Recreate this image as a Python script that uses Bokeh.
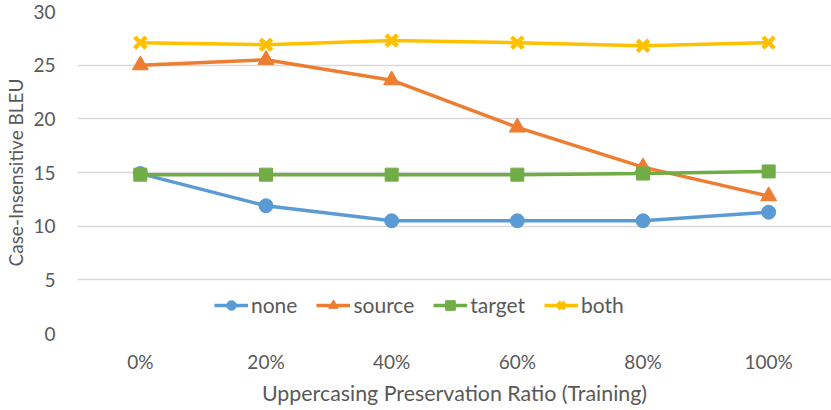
from bokeh.plotting import figure
from bokeh.models import Range1d, Legend, LegendItem, FixedTicker
from bokeh.embed import file_html
from bokeh.resources import INLINE

categories = ["0%", "20%", "40%", "60%", "80%", "100%"]
none_vals = [14.9, 11.9, 10.5, 10.5, 10.5, 11.3]
source_vals = [25.0, 25.5, 23.6, 19.2, 15.5, 12.8]
target_vals = [14.8, 14.8, 14.8, 14.8, 14.9, 15.1]
both_vals = [27.1, 26.9, 27.3, 27.1, 26.8, 27.1]
y_ticks = [0, 5, 10, 15, 20, 25, 30]
x_title = "Uppercasing Preservation Ratio (Training)"
y_title = "Case-Insensitive BLEU"

FONT = "Lato"
TXT = "#595959"

p = figure(x_range=categories, y_range=Range1d(0, 30),
           width=831, height=410, output_backend="svg", toolbar_location=None,
           min_border_left=77, min_border_right=0, min_border_top=11, min_border_bottom=77)
p.outline_line_color = None
p.background_fill_color = "white"
p.border_fill_color = "white"

p.xgrid.grid_line_color = None
p.ygrid.grid_line_color = "#D9D9D9"
p.ygrid.grid_line_width = 1.3
p.yaxis.ticker = FixedTicker(ticks=y_ticks)

for ax in (p.xaxis[0], p.yaxis[0]):
    ax.axis_line_color = None
    ax.major_tick_line_color = None
    ax.minor_tick_line_color = None
    ax.major_tick_out = 0
    ax.major_tick_in = 0
    ax.major_label_text_font = FONT
    ax.major_label_text_font_size = "19px"
    ax.major_label_text_color = TXT
    ax.axis_label_text_font = FONT
    ax.axis_label_text_color = TXT
    ax.axis_label_text_font_style = "normal"

p.xaxis.axis_label = x_title
p.yaxis.axis_label = y_title
p.xaxis.axis_label_text_font_size = "21.4px"
p.yaxis.axis_label_text_font_size = "19px"
p.xaxis.major_label_standoff = 16
p.xaxis.axis_label_standoff = 4
p.yaxis.major_label_standoff = 22
p.yaxis.axis_label_standoff = 3

series = [
    ("none", none_vals, "#5B9BD5", "circle", 14),
    ("source", source_vals, "#ED7D31", "triangle", 16),
    ("target", target_vals, "#70AD47", "square", 13),
    ("both", both_vals, "#FFC000", "x", 16),
]

items = []
for name, vals, color, marker, size in series:
    l = p.line(categories, vals, line_color=color, line_width=3.5)
    if marker == "x":
        s = p.scatter(categories, vals, marker="x", size=size, line_color=color, line_width=4.5)
    else:
        s = p.scatter(categories, vals, marker=marker, size=size, fill_color=color, line_color=color)
    items.append(LegendItem(label=name, renderers=[l, s]))

legend = Legend(items=items, orientation="horizontal", location=(137, 16),
                border_line_color=None, background_fill_alpha=0,
                padding=0, margin=0, spacing=19, glyph_width=34, glyph_height=24,
                label_standoff=3, label_text_font=FONT, label_text_font_size="21px",
                label_text_color=TXT)
p.add_layout(legend, "center")

open("out.html", "w").write(file_html(p, INLINE))
